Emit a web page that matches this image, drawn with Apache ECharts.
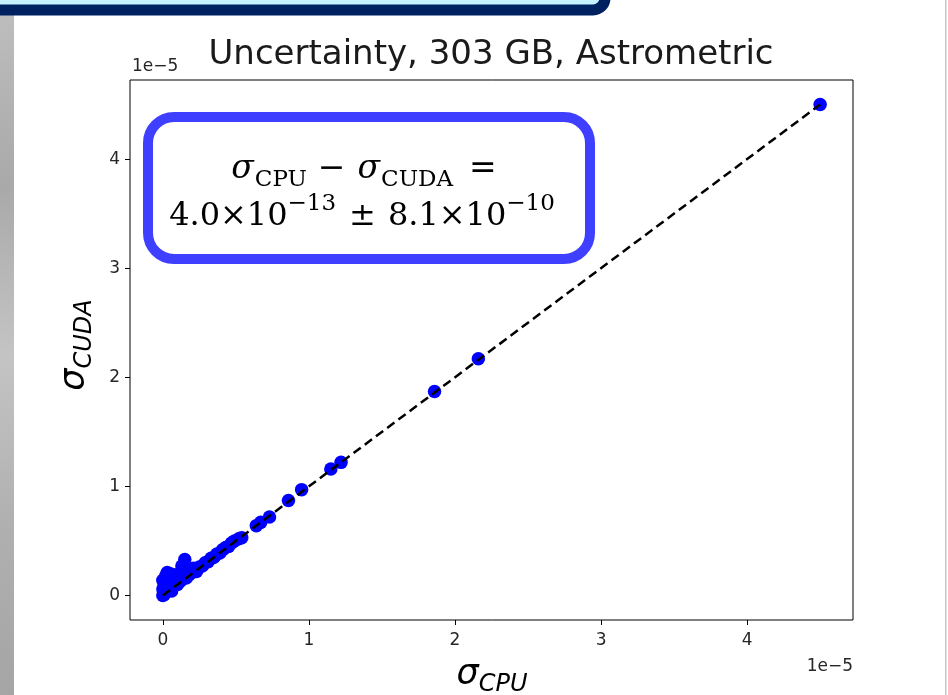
<!DOCTYPE html>
<html><head><meta charset="utf-8">
<script src="https://cdn.jsdelivr.net/npm/echarts@6/dist/echarts.min.js"></script>
<style>html,body{margin:0;padding:0;background:#fff;overflow:hidden}#c{width:948px;height:695px}</style>
</head><body><div id="c"></div>
<script>
// Values in units of 1e-5 (axis offset label "1e−5")
const sigmaCPU  = [0.00,0.01,0.02,0.00,0.01,0.00,0.02,0.03,0.05,0.04,0.06,0.07,0.08,0.10,0.11,0.12,0.15,0.13,0.14,0.16,0.18,0.20,0.21,0.23,0.25,0.27,0.29,0.31,0.33,0.35,0.37,0.39,0.41,0.43,0.45,0.47,0.49,0.52,0.54,0.02,0.04,0.09,0.64,0.67,0.73,0.86,0.95,1.15,1.22,1.86,2.16,4.50];
const sigmaCUDA = [0.00,0.01,0.03,0.06,0.10,0.14,0.18,0.21,0.20,0.08,0.04,0.09,0.15,0.10,0.17,0.13,0.33,0.27,0.20,0.16,0.19,0.21,0.25,0.22,0.26,0.27,0.30,0.31,0.34,0.35,0.38,0.39,0.42,0.44,0.45,0.48,0.50,0.52,0.53,0.12,0.15,0.19,0.64,0.67,0.72,0.87,0.97,1.16,1.22,1.87,2.17,4.50];
const refLineX = [0, 4.5];
const refLineY = [0, 4.5];
const tickValues = [0, 1, 2, 3, 4];
const axisMin = -0.225, axisMax = 4.725;
const titleText = 'Uncertainty, 303 GB, Astrometric';
const offsetText = '1e\u22125';

const chart = echarts.init(document.getElementById('c'), null, {renderer: 'canvas'});

const mctx = document.createElement('canvas').getContext('2d');
function fstr(r){ return (r.italic ? 'italic ' : '') + r.size + 'px "' + r.family + '"'; }
function runs2els(runs, cx, by){
  const widths = runs.map(r => { mctx.font = fstr(r); return mctx.measureText(r.t).width; });
  const total = widths.reduce((a, b, i) => a + b + (runs[i].gap || 0), 0) - (runs[runs.length-1].gap || 0);
  let x = cx - total / 2;
  return runs.map((r, i) => {
    mctx.font = fstr(r); mctx.textBaseline = 'middle';
    let off = mctx.measureText('H').actualBoundingBoxDescent;
    if (!isFinite(off)) off = 0.33 * r.size;
    const el = {type: 'text', x: x, y: by + (r.dy || 0) - off, z: 100,
      style: {text: r.t, fontSize: r.size, fontFamily: r.family, fontStyle: r.italic ? 'italic' : 'normal',
              fill: r.color || '#000', align: 'left', verticalAlign: 'middle'}};
    x += widths[i] + (r.gap || 0);
    return el;
  });
}
const SER = 'DejaVu Serif', SANS = 'DejaVu Sans';
const line1 = runs2els([
  {t: '\u03c3', size: 33, family: SER, italic: true, gap: 1},
  {t: 'CPU', size: 23, family: SER, dy: 8, gap: 11},
  {t: '\u2212', size: 33, family: SER, gap: 12},
  {t: '\u03c3', size: 33, family: SER, italic: true, gap: 1},
  {t: 'CUDA', size: 23, family: SER, dy: 8, gap: 16},
  {t: '=', size: 33, family: SER}
], 364, 178);
const line2 = runs2els([
  {t: '4.0\u00d710', size: 32, family: SER},
  {t: '\u221213', size: 23, family: SER, dy: -15, gap: 13},
  {t: '\u00b1', size: 32, family: SER, gap: 12},
  {t: '8.1\u00d710', size: 32, family: SER},
  {t: '\u221210', size: 23, family: SER, dy: -15}
], 362, 225);
const xlab = runs2els([
  {t: '\u03c3', size: 35, family: SANS, italic: true},
  {t: 'CPU', size: 24, family: SANS, italic: true, dy: 7}
], 492, 684);
const ylabChildren = runs2els([
  {t: '\u03c3', size: 35, family: SANS, italic: true},
  {t: 'CUDA', size: 24, family: SANS, italic: true, dy: 7}
], 0, 0);

const graphic = [
  // slide decorations
  {type: 'rect', shape: {x: 0, y: 15, width: 14, height: 680}, z: -10,
   style: {fill: new echarts.graphic.LinearGradient(0, 0, 0, 1, [
     {offset: 0, color: '#bdbdbd'}, {offset: 0.25, color: '#a9a9a9'}, {offset: 0.5, color: '#c4c4c4'}, {offset: 0.75, color: '#b0b0b0'}, {offset: 1, color: '#a5a5a5'}])}},
  {type: 'rect', shape: {x: -20, y: -60, width: 625, height: 70, r: 12}, z: -9,
   style: {fill: '#c6f2ff', stroke: '#00215f', lineWidth: 11}},
  {type: 'rect', shape: {x: 945, y: 0, width: 1.5, height: 695}, z: -9, style: {fill: '#c8c8c8'}},
  // title
  {type: 'text', x: 491, y: 55, z: 100, style: {text: titleText, fontSize: 34, fontFamily: SANS, fill: '#1a1a1a', align: 'center', verticalAlign: 'middle'}},
  // offset labels
  {type: 'text', x: 132, y: 67, z: 100, style: {text: offsetText, fontSize: 17, fontFamily: SANS, fill: '#262626', align: 'left', verticalAlign: 'middle'}},
  {type: 'text', x: 853, y: 667, z: 100, style: {text: offsetText, fontSize: 17, fontFamily: SANS, fill: '#262626', align: 'right', verticalAlign: 'middle'}},
  // annotation box
  {type: 'rect', shape: {x: 148, y: 117, width: 442, height: 142, r: 26}, z: 90,
   style: {fill: '#fff', stroke: '#3f3fff', lineWidth: 10}},
  ...line1, ...line2, ...xlab,
  {type: 'group', x: 84, y: 345, rotation: Math.PI / 2, z: 100, children: ylabChildren}
];

const axisCommon = {
  type: 'value', min: axisMin, max: axisMax,
  splitLine: {show: false},
  axisLine: {show: false, onZero: false},
  axisTick: {show: true, length: 5, lineStyle: {color: '#000', width: 1}, customValues: tickValues},
  axisLabel: {customValues: tickValues, fontSize: 17, fontFamily: SANS, color: '#262626'}
};

chart.setOption({
  animation: false,
  backgroundColor: '#fff',
  grid: {left: 130, top: 80, width: 723, height: 540, show: true, borderColor: '#000', borderWidth: 1, backgroundColor: 'transparent'},
  xAxis: Object.assign({}, axisCommon, {axisLabel: Object.assign({}, axisCommon.axisLabel, {margin: 12})}),
  yAxis: Object.assign({}, axisCommon, {axisLabel: Object.assign({}, axisCommon.axisLabel, {margin: 10})}),
  series: [
    {type: 'scatter', data: sigmaCPU.map((v, i) => [v, sigmaCUDA[i]]), symbolSize: 13.5,
     itemStyle: {color: '#0000ff', opacity: 1}, z: 2, silent: true},
    {type: 'line', data: refLineX.map((v, i) => [v, refLineY[i]]), showSymbol: false, symbol: 'none',
     lineStyle: {color: '#000', width: 2.5, type: [9, 5]}, z: 3, silent: true}
  ],
  graphic: graphic
});
</script>
</body></html>
